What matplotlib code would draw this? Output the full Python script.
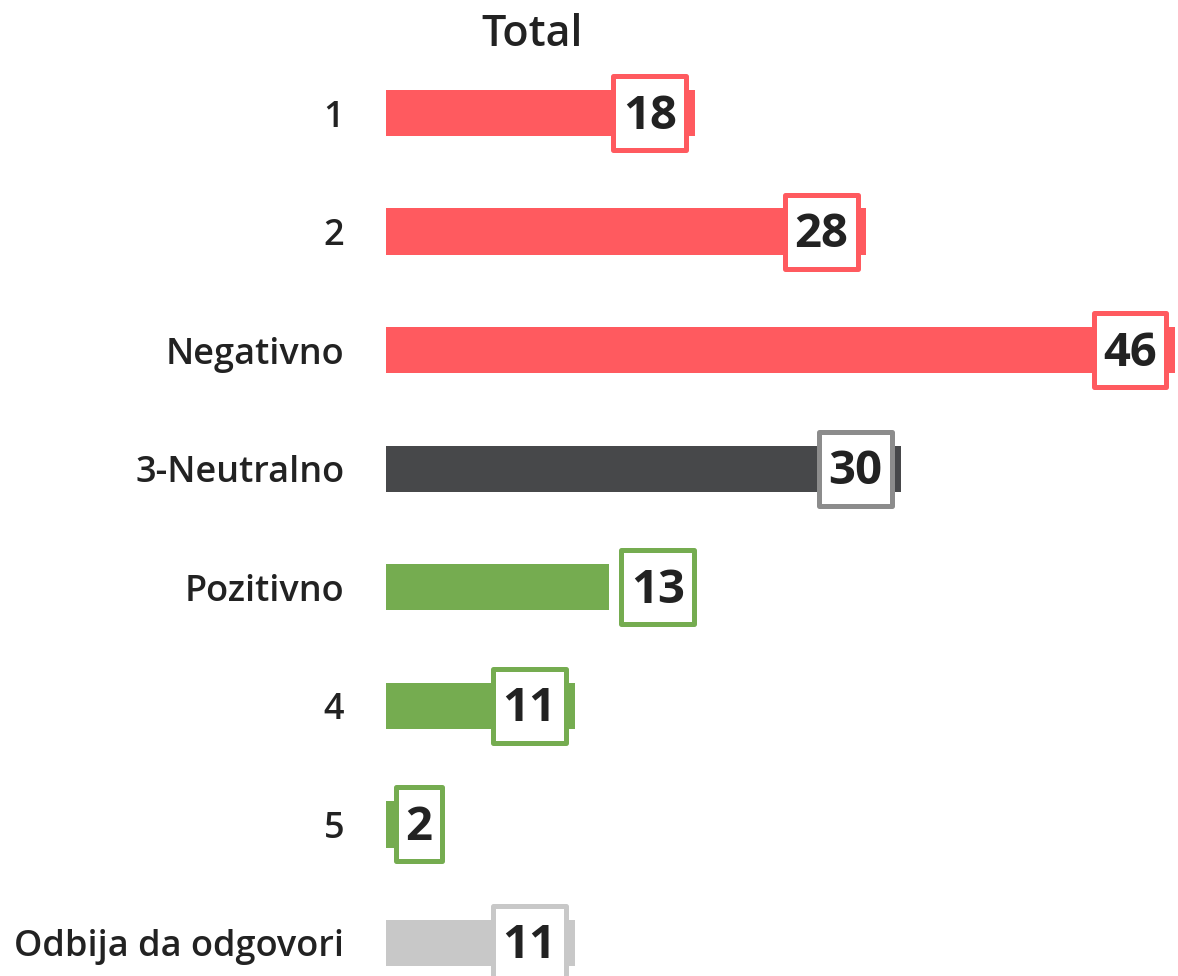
import matplotlib
matplotlib.use("Agg")
import matplotlib.pyplot as plt
from matplotlib.path import Path
from matplotlib.transforms import offset_copy

plt.rcParams["font.family"] = ["Open Sans", "DejaVu Sans"]

categories = ["1", "2", "Negativno", "3-Neutralno", "Pozitivno", "4", "5", "Odbija da odgovori"]
values = [18, 28, 46, 30, 13, 11, 2, 11]

RED = "#FF5A5F"
DARK = "#47484A"
GREEN = "#75AC50"
LIGHT = "#C8C8C8"
TEXT = "#222222"
bar_colors = [RED, RED, RED, DARK, GREEN, GREEN, GREEN, LIGHT]
edge_colors = [RED, RED, RED, "#8C8C8C", GREEN, GREEN, GREEN, LIGHT]
outside = {"Pozitivno"}

W, H = 1178, 976
fig = plt.figure(figsize=(W / 100, H / 100), dpi=100)

# rows are 118.5 px apart, first row centred at y=113
top_px = 113 - 59.25
bottom_px = 943 + 59.25
left_px, right_px = 386, 1175
ax = fig.add_axes([left_px / W, (H - bottom_px) / H,
                   (right_px - left_px) / W, (bottom_px - top_px) / H])

ypos = list(range(len(categories)))
ax.barh(ypos, values, height=0.39, color=bar_colors, zorder=2)
ax.set_xlim(0, 46)
ax.set_ylim(len(categories) - 0.5, -0.5)
ax.set_yticks(ypos)
ax.set_yticklabels(categories, fontsize=26, color=TEXT, fontweight="semibold")
ax.tick_params(axis="y", length=0, pad=30)
ax.set_xticks([])
for s in ax.spines.values():
    s.set_visible(False)

PAD_X = 9.5      # px, text edge to border centre line
BOX_H = 74.0     # px, border centre line height
TEXT_DROP = 3.0  # px, digits sit a little low in the box
LW = 3.6
NUM_SIZE = 34


def label_box(x0, y0, width, height, mutation_size):
    # fixed-height box, padded horizontally around the value
    cy = y0 + height / 2 + TEXT_DROP
    x1 = x0 - PAD_X
    x2 = x0 + width + PAD_X
    y1, y2 = cy - BOX_H / 2, cy + BOX_H / 2
    return Path([(x1, y1), (x2, y1), (x2, y2), (x1, y2), (x1, y1)], closed=True)


fig.canvas.draw()
renderer = fig.canvas.get_renderer()
px_per_unit = (right_px - left_px) / 46

for y, v, cat, ec in zip(ypos, values, categories, edge_colors):
    probe = ax.text(0, 0, str(v), fontsize=NUM_SIZE, fontweight="bold")
    tw = probe.get_window_extent(renderer).width
    probe.remove()
    box_w = tw + 2 * PAD_X + LW * 1.39
    bar_px = v * px_per_unit
    if cat in outside:
        ha, dx = "left", 10 + LW * 0.7 + PAD_X
    elif bar_px - 6 - box_w < 7:
        # too short for the box: start it just right of the axis
        ha, dx = "left", 7 + LW * 0.7 + PAD_X - bar_px
    else:
        ha, dx = "right", -(6 + LW * 0.7 + PAD_X)
    tr = offset_copy(ax.transData, fig=fig, x=dx, y=-TEXT_DROP, units="dots")
    ax.text(v, y, str(v), transform=tr, ha=ha, va="center",
            fontsize=NUM_SIZE, fontweight="bold", color=TEXT, zorder=3, clip_on=False,
            bbox=dict(boxstyle=label_box, fc="white", ec=ec, lw=LW, joinstyle="round"))

fig.text(532 / W, 1 - 35 / H, "Total", ha="center", va="center",
         fontsize=31, fontweight="semibold", color=TEXT)

fig.savefig("out.png", dpi=100)
